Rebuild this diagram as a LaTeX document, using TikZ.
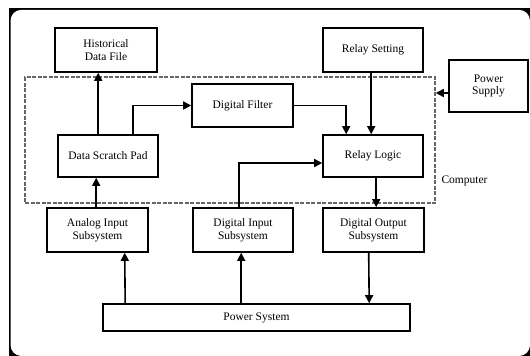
\documentclass[tikz,border=0pt]{standalone}
\usepackage{fontspec}
\setmainfont{Liberation Serif}
\usetikzlibrary{arrows.meta,calc}
\begin{document}
\begin{tikzpicture}[x=1pt,y=-1pt,
  blk/.style={draw,line width=1.6pt,minimum width=#1,inner sep=0pt,align=center,
    font=\fontsize{11.5}{12.5}\selectfont},
  arr/.style={line width=1.6pt,-{Triangle[length=8pt,width=8pt]}},
  dash box/.style={draw=black!60,line width=1.6pt,dash pattern=on 4pt off 1.5pt,inner sep=0pt}]
\useasboundingbox (0,0) rectangle (530,356);
% frame
\fill[black] (9,8) rectangle (531,357);
\fill[white,rounded corners=11pt] (10.5,9.8) rectangle (530,356);
\fill[white] (0,0) rectangle (530,7.5);
\fill[white] (0,0) rectangle (8.5,356);
% computer box
\node[dash box,minimum width=410,minimum height=126] (comp) at (230,140) {};
\node[anchor=west,font=\fontsize{11.5}{12.5}\selectfont] (clab) at (438,181) {Computer};
% blocks
\node[blk=102,minimum height=44] (hist) at (106,50) {Historical\\Data File};
\node[blk=101,minimum height=43] (filt) at (242.5,105.5) {Digital Filter};
\node[blk=100,minimum height=42] (dsp) at (108,156) {Data Scratch Pad};
\node[blk=100,minimum height=44] (rset) at (373,50) {Relay Setting};
\node[blk=79,minimum height=52] (psup) at (488.5,86) {Power\\Supply};
\node[blk=100,minimum height=42] (rlog) at (373,156) {Relay Logic};
\node[blk=101,minimum height=44] (ain) at (97.5,230) {Analog Input\\Subsystem};
\node[blk=100,minimum height=44] (din) at (243,230) {Digital Input\\Subsystem};
\node[blk=101,minimum height=44] (dout) at (373.5,230) {Digital Output\\Subsystem};
\node[blk=307,minimum height=27] (psys) at (256.5,317.5) {Power System};
% connectors
\draw[arr] ([xshift=41pt]dsp.north west) -- ([xshift=44pt]hist.south west);
\draw[arr] ([xshift=76pt]dsp.north west) |- (filt.west);
\draw[arr] (filt.east) -| ([xshift=24pt]rlog.north west);
\draw[arr] ([xshift=49pt]rset.south west) -- ([xshift=49pt]rlog.north west);
\draw[arr] ([yshift=-7pt]psup.west) -- ([yshift=-7pt]psup.west -| comp.east);
\draw[arr] ([xshift=47pt]din.north west) |- ([yshift=-7pt]rlog.west);
\draw[arr] ([xshift=50pt]ain.north west) -- ([xshift=39pt]dsp.south west);
\draw[arr] ([xshift=54pt]rlog.south west) -- ([xshift=54pt]dout.north west);
\draw[arr] ([xshift=23pt]psys.north west) -- ([xshift=78.5pt]ain.south west);
\draw[arr] ([xshift=139pt]psys.north west) -- ([xshift=49pt]din.south west);
\draw[arr] ([xshift=46.5pt]dout.south west) -- ([xshift=267pt]psys.north west);
\end{tikzpicture}
\end{document}
